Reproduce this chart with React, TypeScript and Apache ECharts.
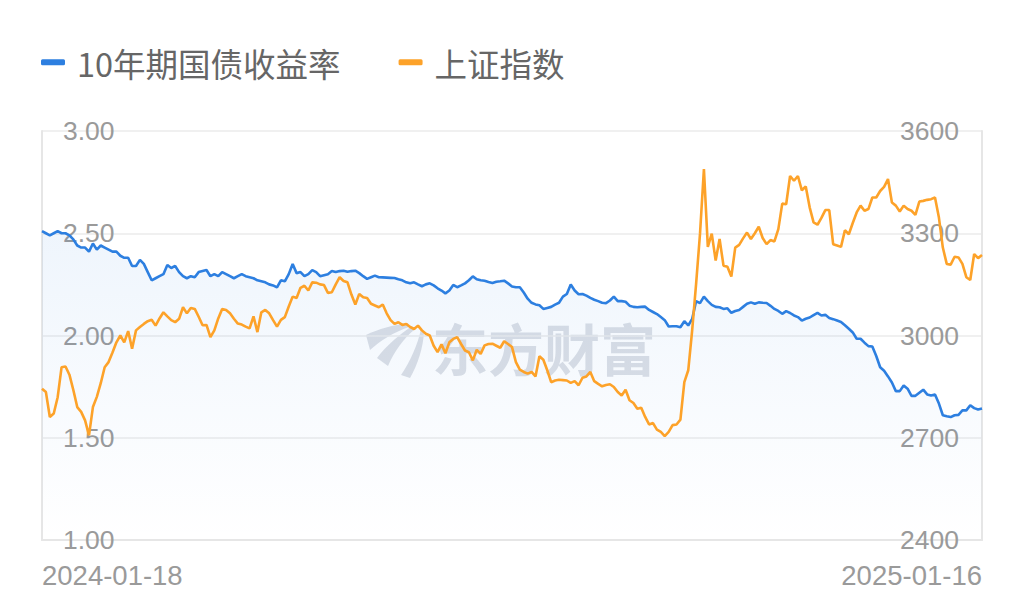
import React, { useEffect, useRef } from "react";
import * as echarts from "echarts";

// Trading calendar for the Shanghai market over the plotted window.
const START_DATE = "2024-01-18";
const END_DATE = "2025-01-16";
const MARKET_HOLIDAYS = [
  "2024-02-09", "2024-02-12", "2024-02-13", "2024-02-14", "2024-02-15", "2024-02-16",
  "2024-04-04", "2024-04-05",
  "2024-05-01", "2024-05-02", "2024-05-03",
  "2024-06-10",
  "2024-09-16", "2024-09-17",
  "2024-10-01", "2024-10-02", "2024-10-03", "2024-10-04", "2024-10-07",
  "2025-01-01",
];

function buildTradingDays(start: string, end: string, closed: string[]): string[] {
  const out: string[] = [];
  const d = new Date(start + "T00:00:00Z");
  const last = new Date(end + "T00:00:00Z");
  while (d.getTime() <= last.getTime()) {
    const wd = d.getUTCDay();
    const s = d.toISOString().slice(0, 10);
    if (wd !== 0 && wd !== 6 && closed.indexOf(s) < 0) out.push(s);
    d.setUTCDate(d.getUTCDate() + 1);
  }
  return out;
}

const categories = buildTradingDays(START_DATE, END_DATE, MARKET_HOLIDAYS);

const SERIES_NAMES = ["10年期国债收益率", "上证指数"];

// 10-year government bond yield, %
const bondYield = [
  2.51, 2.50, 2.49, 2.50, 2.51, 2.50, 2.50, 2.49, 2.47, 2.44,
  2.43, 2.43, 2.41, 2.45, 2.42, 2.44, 2.43, 2.42, 2.41, 2.41,
  2.39, 2.38, 2.38, 2.34, 2.34, 2.37, 2.35, 2.31, 2.27, 2.28,
  2.29, 2.30, 2.345, 2.33, 2.34, 2.31, 2.29, 2.28, 2.29, 2.285,
  2.31, 2.315, 2.32, 2.29, 2.30, 2.29, 2.31, 2.30, 2.29, 2.28,
  2.29, 2.30, 2.29, 2.285, 2.28, 2.27, 2.265, 2.26, 2.25, 2.245,
  2.235, 2.27, 2.265, 2.30, 2.35, 2.305, 2.31, 2.29, 2.30, 2.32,
  2.31, 2.29, 2.295, 2.30, 2.315, 2.31, 2.315, 2.317, 2.312, 2.315,
  2.317, 2.305, 2.29, 2.277, 2.285, 2.293, 2.285, 2.284, 2.283, 2.282,
  2.281, 2.275, 2.27, 2.26, 2.255, 2.26, 2.25, 2.241, 2.25, 2.255,
  2.245, 2.231, 2.22, 2.206, 2.22, 2.247, 2.236, 2.245, 2.255, 2.27,
  2.289, 2.275, 2.27, 2.268, 2.262, 2.257, 2.263, 2.265, 2.268, 2.255,
  2.24, 2.236, 2.236, 2.21, 2.18, 2.16, 2.152, 2.148, 2.13, 2.135,
  2.14, 2.151, 2.16, 2.19, 2.203, 2.249, 2.22, 2.202, 2.203, 2.195,
  2.184, 2.175, 2.168, 2.16, 2.158, 2.171, 2.19, 2.168, 2.168, 2.165,
  2.146, 2.14, 2.138, 2.14, 2.141, 2.125, 2.115, 2.105, 2.09, 2.075,
  2.044, 2.045, 2.045, 2.04, 2.07, 2.049, 2.081, 2.168, 2.158, 2.19,
  2.168, 2.15, 2.14, 2.138, 2.13, 2.133, 2.111, 2.12, 2.125, 2.14,
  2.155, 2.162, 2.155, 2.162, 2.16, 2.159, 2.145, 2.13, 2.12, 2.106,
  2.119, 2.11, 2.098, 2.09, 2.073, 2.082, 2.088, 2.10, 2.111, 2.098,
  2.101, 2.086, 2.08, 2.073, 2.066, 2.05, 2.033, 2.015, 1.984, 1.984,
  1.965, 1.948, 1.946, 1.90, 1.845, 1.828, 1.80, 1.77, 1.728, 1.728,
  1.756, 1.74, 1.705, 1.705, 1.72, 1.735, 1.712, 1.707, 1.712, 1.667,
  1.61, 1.605, 1.601, 1.61, 1.612, 1.634, 1.634, 1.659, 1.645, 1.638,
  1.643,
];

// Shanghai Composite Index close
const shanghaiIndex = [
  2844, 2834, 2761, 2771, 2819, 2907, 2909, 2885, 2840, 2790,
  2776, 2751, 2707, 2790, 2820, 2860, 2907, 2922, 2950, 2980,
  3000, 2980, 3013, 2961, 3015, 3025, 3034, 3042, 3046, 3029,
  3050, 3068, 3056, 3045, 3039, 3049, 3083, 3065, 3081, 3078,
  3055, 3030, 3031, 2995, 3015, 3050, 3078, 3075, 3065, 3049,
  3035, 3032, 3026, 3021, 3056, 3010, 3068, 3075, 3065, 3045,
  3026, 3046, 3054, 3085, 3114, 3110, 3140, 3146, 3132, 3156,
  3155, 3150, 3148, 3125, 3127, 3150, 3171, 3160, 3156, 3120,
  3091, 3122, 3112, 3110, 3093, 3088, 3083, 3091, 3065, 3045,
  3034, 3039, 3031, 3034, 3025, 3019, 3029, 3015, 3005, 3000,
  2970, 2951, 2974, 2948, 2980, 2990, 2995, 2975, 2956, 2951,
  2927, 2958, 2946, 2971, 2975, 2976, 2970, 2964, 2983, 2975,
  2966, 2922, 2900, 2893, 2888, 2893, 2880, 2939, 2929, 2898,
  2863, 2868, 2870, 2869, 2868, 2861, 2866, 2854, 2876, 2880,
  2893, 2866, 2858, 2851, 2855, 2857, 2849, 2834, 2824, 2841,
  2810, 2802, 2785, 2788, 2761, 2739, 2743, 2724, 2717, 2705,
  2717, 2737, 2739, 2753, 2863, 2898, 3015, 3151, 3298, 3488,
  3260, 3299, 3220, 3283, 3205, 3202, 3173, 3258, 3266, 3285,
  3302, 3283, 3300, 3319, 3286, 3268, 3280, 3276, 3312, 3387,
  3385, 3468, 3454, 3468, 3426, 3437, 3376, 3332, 3325, 3345,
  3368, 3368, 3268, 3264, 3260, 3309, 3297, 3330, 3361, 3381,
  3366, 3371, 3405, 3405, 3424, 3436, 3459, 3390, 3381, 3364,
  3381, 3371, 3366, 3354, 3393, 3395, 3398, 3400, 3405, 3346,
  3258, 3210, 3208, 3231, 3229, 3210, 3171, 3163, 3239, 3227,
  3236,
];

const YIELD_AXIS = { min: 1, max: 3, interval: 0.5 };
const INDEX_AXIS = { min: 2400, max: 3600, interval: 300 };

const BLUE = "#2d7fe0";
const ORANGE = "#fda229";
const AXIS_GRAY = "#e6e6e6";
const LABEL_GRAY = "#9a9a9a";
const LATIN_FONT = "'Liberation Sans', Arial, sans-serif";
const CJK_FONT = "'Noto Sans CJK SC', sans-serif";

// Brand mark drawn behind the plot
const LOGO_PATH =
  "M42,3 C28,5 12,9 0,15 L4,30 C14,21 28,12 43,7 Z " +
  "M46,6 C34,14 20,26 11,38 L22,46 C28,32 38,18 48,10 Z " +
  "M55,9 C52,24 44,42 35,55 L44,58 C52,44 57,28 58,12 Z";
echarts.graphic.registerShape("brandLogo", echarts.graphic.extendPath(LOGO_PATH, {}));

export default function App() {
  const ref = useRef<HTMLDivElement>(null);

  useEffect(() => {
    if (!ref.current) return;
    const chart = echarts.init(ref.current, null, { renderer: "svg" });
    const last = categories.length - 1;

    chart.setOption({
      animation: false,
      backgroundColor: "#ffffff",
      legend: {
        left: 36,
        top: 41,
        icon: "roundRect",
        itemWidth: 24,
        itemHeight: 6,
        itemGap: 58,
        data: SERIES_NAMES,
        textStyle: {
          fontSize: 32.5,
          color: "#666666",
          fontFamily: CJK_FONT,
          padding: [0, 0, 0, 7],
        },
      },
      grid: { left: 42, right: 42, top: 131, bottom: 69, containLabel: false },
      graphic: [
        {
          type: "group",
          z: 1,
          silent: true,
          children: [
            {
              type: "brandLogo",
              x: 366,
              y: 320,
              style: { fill: "rgba(186,191,203,0.5)" },
            },
            {
              type: "text",
              x: 432,
              y: 318,
              style: {
                text: "东方财富",
                font: "bold 56px " + CJK_FONT,
                fill: "rgba(186,191,203,0.5)",
              },
            },
          ],
        },
      ],
      xAxis: {
        type: "category",
        data: categories,
        boundaryGap: false,
        axisTick: { show: false },
        axisLine: { show: true, lineStyle: { color: AXIS_GRAY, width: 2 } },
        splitLine: { show: false },
        axisLabel: {
          interval: (index: number) => index === 0 || index === last,
          showMinLabel: true,
          showMaxLabel: true,
          alignMinLabel: "left",
          alignMaxLabel: "right",
          margin: 21,
          fontSize: 27.5,
          color: LABEL_GRAY,
          fontFamily: LATIN_FONT,
        },
      },
      yAxis: [
        {
          type: "value",
          position: "left",
          min: YIELD_AXIS.min,
          max: YIELD_AXIS.max,
          interval: YIELD_AXIS.interval,
          axisLine: { show: true, lineStyle: { color: AXIS_GRAY, width: 2 } },
          axisTick: { show: false },
          splitLine: { show: true, lineStyle: { color: "#ebebeb", width: 1.5 } },
          axisLabel: {
            inside: true,
            margin: 21,
            fontSize: 26.5,
            color: LABEL_GRAY,
            fontFamily: LATIN_FONT,
            formatter: (v: number) => v.toFixed(2),
          },
        },
        {
          type: "value",
          position: "right",
          min: INDEX_AXIS.min,
          max: INDEX_AXIS.max,
          interval: INDEX_AXIS.interval,
          axisLine: { show: true, lineStyle: { color: AXIS_GRAY, width: 2 } },
          axisTick: { show: false },
          splitLine: { show: false },
          axisLabel: {
            inside: true,
            margin: 23,
            fontSize: 26.5,
            color: LABEL_GRAY,
            fontFamily: LATIN_FONT,
            formatter: (v: number) => String(v),
          },
        },
      ],
      series: [
        {
          name: SERIES_NAMES[0],
          type: "line",
          yAxisIndex: 0,
          data: bondYield,
          symbol: "none",
          z: 3,
          lineStyle: { color: BLUE, width: 2.6 },
          itemStyle: { color: BLUE },
          areaStyle: {
            origin: "start",
            color: new echarts.graphic.LinearGradient(0, 0, 0, 1, [
              { offset: 0, color: "rgba(45,127,224,0.11)" },
              { offset: 1, color: "rgba(45,127,224,0.0)" },
            ]),
          },
        },
        {
          name: SERIES_NAMES[1],
          type: "line",
          yAxisIndex: 1,
          data: shanghaiIndex,
          symbol: "none",
          z: 4,
          lineStyle: { color: ORANGE, width: 2.6 },
          itemStyle: { color: ORANGE },
        },
      ],
    });

    return () => chart.dispose();
  }, []);

  return (
    <div
      ref={ref}
      style={{ position: "fixed", left: 0, top: 0, width: 1024, height: 609 }}
    />
  );
}
